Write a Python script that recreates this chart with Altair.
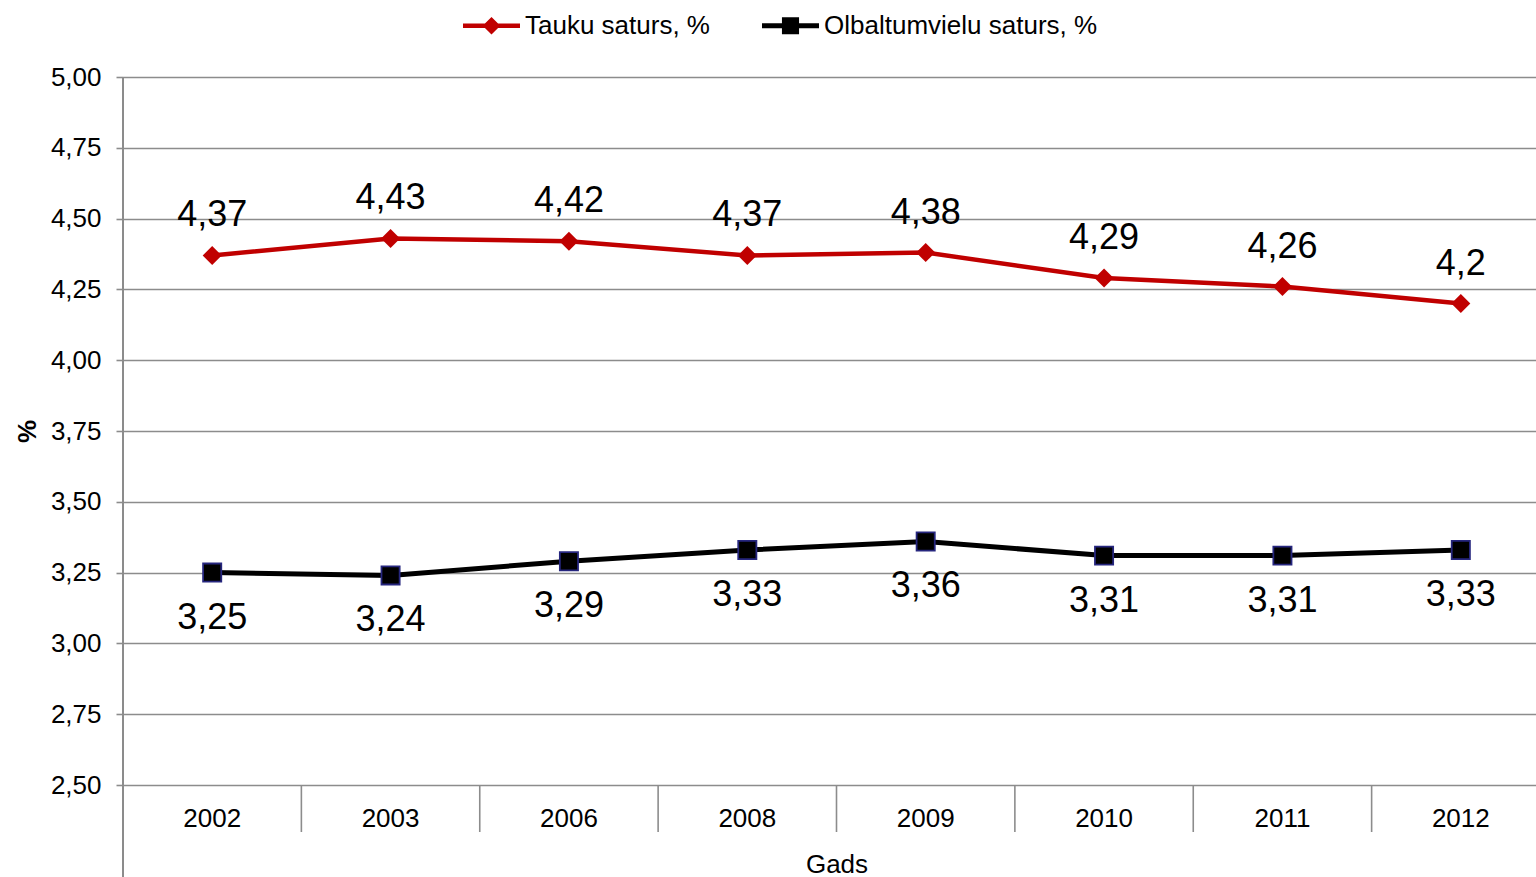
import altair as alt
import pandas as pd

# Milk composition by year
years = ["2002", "2003", "2006", "2008", "2009", "2010", "2011", "2012"]
fat = [4.37, 4.43, 4.42, 4.37, 4.38, 4.29, 4.26, 4.2]
protein = [3.25, 3.24, 3.29, 3.33, 3.36, 3.31, 3.31, 3.33]
series_names = ["Tauku saturs, %", "Olbaltumvielu saturs, %"]
series_colors = ["#c00000", "#000000"]
y_ticks = [2.5, 2.75, 3.0, 3.25, 3.5, 3.75, 4.0, 4.25, 4.5, 4.75, 5.0]

rows = []
for yr, f, p in zip(years, fat, protein):
    rows.append({"year": yr, "series": series_names[0], "value": f})
    rows.append({"year": yr, "series": series_names[1], "value": p})
df = pd.DataFrame(rows)
dividers = pd.DataFrame({"year": years[1:]})

FONT = "Liberation Sans"
GRID = "#8c8c8c"
PLOT_W = 1413
BAND_RANGE = 1427
PLOT_H = 708

x_scale = alt.Scale(domain=years, range=[0, BAND_RANGE], paddingInner=0, paddingOuter=0)
y_scale = alt.Scale(domain=[2.5, 5.0], nice=False, zero=False)

x_enc = alt.X(
    "year:N",
    scale=x_scale,
    sort=years,
    axis=alt.Axis(
        title="Gads",
        labelAngle=0,
        labelAlign="center",
        ticks=False,
        domain=False,
        labelFontSize=26,
        labelFont=FONT,
        labelColor="#000000",
        labelPadding=41,
        labelBaseline="alphabetic",
        titleFontSize=26,
        titleFont=FONT,
        titleFontWeight="normal",
        titleColor="#000000",
        titleBaseline="alphabetic",
        titleY=87,
    ),
)
y_enc = alt.Y(
    "value:Q",
    scale=y_scale,
    axis=alt.Axis(
        title="%",
        values=y_ticks,
        labelExpr="replace(format(datum.value, '.2f'), '.', ',')",
        domain=False,
        tickSize=7,
        tickColor=GRID,
        tickWidth=1.6,
        labelPadding=15,
        labelFontSize=26,
        labelFont=FONT,
        labelColor="#000000",
        grid=True,
        gridColor=GRID,
        gridWidth=1.6,
        titleFontSize=26,
        titleFont=FONT,
        titleFontWeight="bold",
        titleColor="#000000",
        titleAngle=270,
        titleBaseline="alphabetic",
        titleX=-88,
        titleY=PLOT_H / 2,
    ),
)

base = alt.Chart(df)
fat_df = base.transform_filter(alt.datum.series == series_names[0])
prot_df = base.transform_filter(alt.datum.series == series_names[1])
xs = alt.X("year:N", scale=x_scale)
ys = alt.Y("value:Q", scale=y_scale)

fat_line = fat_df.mark_line(strokeWidth=4.5, color=series_colors[0]).encode(x=x_enc, y=y_enc)
prot_line = prot_df.mark_line(strokeWidth=5, color=series_colors[1]).encode(x=xs, y=ys)

fat_pts = fat_df.mark_point(
    shape="diamond", filled=True, size=360, color=series_colors[0], opacity=1
).encode(x=xs, y=ys)
prot_pts = prot_df.mark_point(
    shape="square", filled=True, size=330, fill="#000000", stroke="#26267e", strokeWidth=1.8, opacity=1
).encode(x=xs, y=ys)

label_calc = "replace(toString(datum.value), '.', ',')"
fat_lbl = fat_df.transform_calculate(label=label_calc).mark_text(
    fontSize=36, font=FONT, color="#000000", dy=-29, baseline="alphabetic", align="center"
).encode(x=xs, y=ys, text="label:N")
prot_lbl = prot_df.transform_calculate(label=label_calc).mark_text(
    fontSize=36, font=FONT, color="#000000", dy=56, baseline="alphabetic", align="center"
).encode(x=xs, y=ys, text="label:N")

# Category separators below the plot and the extended value axis line
sep = alt.Chart(dividers).mark_rule(color=GRID, strokeWidth=1.6).encode(
    x=alt.X("year:N", scale=x_scale, bandPosition=0),
    y=alt.value(PLOT_H),
    y2=alt.value(PLOT_H + 47),
)
yline = alt.Chart(dividers).mark_rule(color=GRID, strokeWidth=1.6).encode(
    x=alt.value(0), y=alt.value(0), y2=alt.value(PLOT_H + 92)
)

# Legend: line segment with marker drawn as one filled path per series.
# The layer that carries it has its rows filtered out, so it draws nothing itself.
diamond_path = "M-1,-0.08L1,-0.08L1,0.08L-1,0.08Z M0,-0.31L0.31,0L0,0.31L-0.31,0Z"
square_path = "M-1,-0.085L1,-0.085L1,0.085L-1,0.085Z M-0.3,-0.3L0.3,-0.3L0.3,0.3L-0.3,0.3Z"
legend_layer = base.transform_filter("false").mark_point(filled=True, opacity=1).encode(
    x=xs,
    y=ys,
    color=alt.Color(
        "series:N",
        scale=alt.Scale(domain=series_names, range=series_colors),
        legend=alt.Legend(
            title=None,
            orient="none",
            direction="horizontal",
            legendX=340,
            legendY=-80,
            symbolSize=57 * 57,
            symbolStrokeWidth=0,
            symbolOpacity=1,
            labelFontSize=26,
            labelFont=FONT,
            labelColor="#000000",
            labelLimit=600,
            labelOffset=5,
            columnPadding=52,
            padding=0,
        ),
    ),
    shape=alt.Shape("series:N", scale=alt.Scale(domain=series_names, range=[diamond_path, square_path])),
)

chart = (
    alt.layer(yline, sep, fat_line, prot_line, fat_pts, prot_pts, fat_lbl, prot_lbl, legend_layer)
    .properties(
        width=PLOT_W,
        height=PLOT_H,
        autosize=alt.AutoSizeParams(type="none"),
        padding={"left": 123, "top": 77, "right": 0, "bottom": 92},
        background="#ffffff",
    )
    .configure_view(stroke=None)
)

chart.save("out.html", embed_options={"renderer": "svg", "actions": False})
